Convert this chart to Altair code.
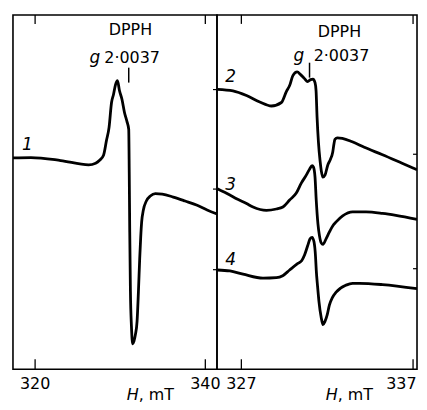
import altair as alt
import pandas as pd

FONT = "DejaVu Sans"

H1 = [317.40, 319.51, 323.01, 326.29, 327.11, 327.58, 328.04, 328.39, 328.69, 328.98,
      329.21, 329.45, 329.68, 329.91, 330.21, 330.50, 330.79, 331.00, 331.06, 331.12,
      331.20, 331.32, 331.47, 331.61, 331.79, 331.98, 332.14, 332.29, 332.41, 332.52,
      332.72, 333.07, 333.54, 334.13, 334.94, 336.23, 337.63, 339.04, 340.21, 341.37]
S1 = [212.3, 212.7, 209.7, 205.3, 207, 210, 215, 230, 243, 268,
      276, 286, 290, 280, 271, 258, 249, 241, 198, 138,
      78, 43, 25.5, 28, 35, 48, 78, 111, 133, 148,
      160, 169, 174, 176.5, 176, 173, 169, 164.7, 160, 156]

H2 = [325.60, 326.51, 327.30, 328.07, 328.75, 329.33, 329.62, 329.81, 330.00, 330.25,
      330.45, 330.68, 330.86, 331.03, 331.17, 331.29, 331.35, 331.41, 331.49, 331.58,
      331.65, 331.75, 331.87, 332.03, 332.19, 332.32, 332.39, 332.45, 332.59, 332.88,
      333.46, 334.16, 335.22, 336.36, 337.23]
S2 = [281.3, 279.7, 275, 268.5, 264.5, 268, 279, 285, 295, 298.7,
      296, 292, 289, 291, 291.5, 288, 280, 253, 228, 210,
      200, 193, 195, 205, 211, 218, 226, 231, 232.5, 232,
      228.5, 223, 215.5, 207, 200.5]

H3 = [325.60, 326.33, 326.72, 327.30, 327.68, 328.46, 329.04, 329.42, 329.81, 330.20,
      330.49, 330.78, 330.97, 331.12, 331.20, 331.29, 331.36, 331.46, 331.55, 331.65,
      331.75, 331.94, 332.13, 332.32, 332.52, 332.90, 333.48, 334.26, 335.22, 336.00,
      337.23]
S3 = [181.3, 175, 171.3, 166.5, 163, 159.7, 161, 163, 170, 177,
      187, 195, 201, 204.5, 203, 193, 170, 146, 134, 127,
      125.5, 131.3, 138, 144, 148, 154, 158, 158, 156.5, 154.5,
      150.5]

H4 = [325.60, 326.33, 327.10, 328.26, 329.04, 329.41, 329.81, 330.29, 330.51, 330.68,
      330.86, 331.00, 331.12, 331.23, 331.32, 331.36, 331.44, 331.52, 331.65, 331.75,
      331.87, 331.99, 332.13, 332.30, 332.52, 333.10, 333.48, 333.87, 335.22, 337.23]
S4 = [99.7, 98.7, 95.5, 91.5, 92, 94, 99.7, 106.3, 109, 114.7,
      124, 131, 132.5, 128, 113, 100, 83, 68, 52, 44.7,
      48, 54, 64.7, 72, 77.5, 84.5, 86.3, 86.3, 85, 80.9]

LEFT_DOMAIN = [317.4, 341.37]
RIGHT_DOMAIN = [325.58, 337.23]
LEFT_TICKS = [320, 340]
RIGHT_TICKS = [327, 337]
LEFT_TICK_LABELS = ["320", "340"]
RIGHT_TICK_LABELS = ["327", "337"]
Y_DOMAIN = [0, 356]
LEFT_SIDE_TICKS = [281, 181, 100]
RIGHT_SIDE_TICKS = [216, 101]

LEFT_TEXT = ["DPPH", "2·0037"]
LEFT_TEXT_H = [331.20, 331.40]
LEFT_TEXT_S = [340.5, 313]
LEFT_ITAL = ["g", "1"]
LEFT_ITAL_H = [327.03, 319.1]
LEFT_ITAL_S = [313, 225.5]
LEFT_MARK_H = 331.0
LEFT_MARK_S = [288, 303]
LEFT_UNIT_H = 332.17

RIGHT_TEXT = ["DPPH", "2·0037"]
RIGHT_TEXT_H = [332.71, 332.83]
RIGHT_TEXT_S = [339, 315]
RIGHT_ITAL = ["g", "2", "3", "4"]
RIGHT_ITAL_H = [330.35, 326.38, 326.38, 326.38]
RIGHT_ITAL_S = [315, 294, 185.5, 110]
RIGHT_MARK_H = 330.97
RIGHT_MARK_S = [293, 308]
RIGHT_UNIT_H = 332.61

WL = 205
WR = 201
HT = 356
LABEL_Y = 371
UNIT_Y = 382


def X(xs):
    return alt.X("H:Q", scale=xs, axis=None)


def Y(ys, field="S:Q"):
    return alt.Y(field, scale=ys, axis=None)


def panel(curves, xdom, ticks, tick_labels, side_ticks, texts, itals, mark_h, mark_s,
          unit_h, W, last_right):
    xs = alt.Scale(domain=xdom, nice=False, zero=False)
    ys = alt.Scale(domain=Y_DOMAIN, nice=False, zero=False)
    frames = []
    for name, (h, s) in curves.items():
        frames.append(pd.DataFrame({"H": h, "S": s, "curve": name}))
    df = pd.concat(frames, ignore_index=True)

    lines = alt.Chart(df).mark_line(color="black", strokeWidth=2.8, clip=True,
                                    strokeJoin="round", interpolate="monotone").encode(
        x=X(xs), y=Y(ys), detail="curve:N")
    tdf = pd.DataFrame({"H": ticks, "t": tick_labels})
    bot = alt.Chart(tdf).mark_rule(color="black", strokeWidth=1.3).encode(
        x=X(xs), y=alt.value(HT), y2=alt.value(HT - 10))
    top = alt.Chart(tdf).mark_rule(color="black", strokeWidth=1.3).encode(
        x=X(xs), y=alt.value(0), y2=alt.value(9))
    lab0 = alt.Chart(tdf.iloc[:1]).mark_text(font=FONT, fontSize=16, color="black",
                                             baseline="middle").encode(
        x=X(xs), y=alt.value(LABEL_Y), text="t:N")
    if last_right:
        shift = W - 0.5 - (ticks[1] - xdom[0]) / (xdom[1] - xdom[0]) * W
        lab1 = alt.Chart(tdf.iloc[1:]).mark_text(font=FONT, fontSize=16, color="black",
                                                 baseline="middle", align="right",
                                                 dx=shift).encode(
            x=X(xs), y=alt.value(LABEL_Y), text="t:N")
    else:
        lab1 = alt.Chart(tdf.iloc[1:]).mark_text(font=FONT, fontSize=16, color="black",
                                                 baseline="middle").encode(
            x=X(xs), y=alt.value(LABEL_Y), text="t:N")
    sdf = pd.DataFrame({"S": side_ticks})
    side = alt.Chart(sdf).mark_rule(color="black", strokeWidth=1.2).encode(
        y=Y(ys), x=alt.value(W - 4), x2=alt.value(W))

    txt_df = pd.DataFrame({"H": texts[1], "S": texts[2], "t": texts[0]})
    txt = alt.Chart(txt_df).mark_text(font=FONT, fontSize=16, color="black",
                                      baseline="middle").encode(
        x=X(xs), y=Y(ys), text="t:N")
    it_df = pd.DataFrame({"H": itals[1], "S": itals[2], "t": itals[0]})
    ital = alt.Chart(it_df).mark_text(font=FONT, fontSize=17, fontStyle="italic",
                                      color="black", baseline="middle").encode(
        x=X(xs), y=Y(ys), text="t:N")
    mdf = pd.DataFrame({"H": [mark_h], "S": [mark_s[0]], "S2": [mark_s[1]]})
    marker = alt.Chart(mdf).mark_rule(color="black", strokeWidth=1.5).encode(
        x=X(xs), y=Y(ys), y2="S2:Q")
    udf = pd.DataFrame({"H": [unit_h], "a": ["H"], "b": [", mT"]})
    uh = alt.Chart(udf).mark_text(font=FONT, fontSize=16, fontStyle="italic",
                                  color="black", align="right", baseline="middle").encode(
        x=X(xs), y=alt.value(UNIT_Y), text="a:N")
    ub = alt.Chart(udf).mark_text(font=FONT, fontSize=16, color="black",
                                  align="left", baseline="middle").encode(
        x=X(xs), y=alt.value(UNIT_Y), text="b:N")
    return alt.layer(lines, bot, top, lab0, lab1, side, txt, ital, marker, uh, ub).properties(
        width=W, height=HT)


left = panel({"1": (H1, S1)}, LEFT_DOMAIN, LEFT_TICKS, LEFT_TICK_LABELS, LEFT_SIDE_TICKS,
             (LEFT_TEXT, LEFT_TEXT_H, LEFT_TEXT_S), (LEFT_ITAL, LEFT_ITAL_H, LEFT_ITAL_S),
             LEFT_MARK_H, LEFT_MARK_S, LEFT_UNIT_H, WL, False)
right = panel({"2": (H2, S2), "3": (H3, S3), "4": (H4, S4)}, RIGHT_DOMAIN, RIGHT_TICKS,
              RIGHT_TICK_LABELS, RIGHT_SIDE_TICKS,
              (RIGHT_TEXT, RIGHT_TEXT_H, RIGHT_TEXT_S), (RIGHT_ITAL, RIGHT_ITAL_H, RIGHT_ITAL_S),
              RIGHT_MARK_H, RIGHT_MARK_S, RIGHT_UNIT_H, WR, True)

chart = alt.hconcat(left, right, spacing=0, bounds="flush").properties(
    padding={"left": 4, "top": 4, "right": 0, "bottom": 0}
).configure(background="white").configure_view(stroke="black", strokeWidth=1.6)

chart.save("out.html", embed_options={"renderer": "svg", "actions": False})
